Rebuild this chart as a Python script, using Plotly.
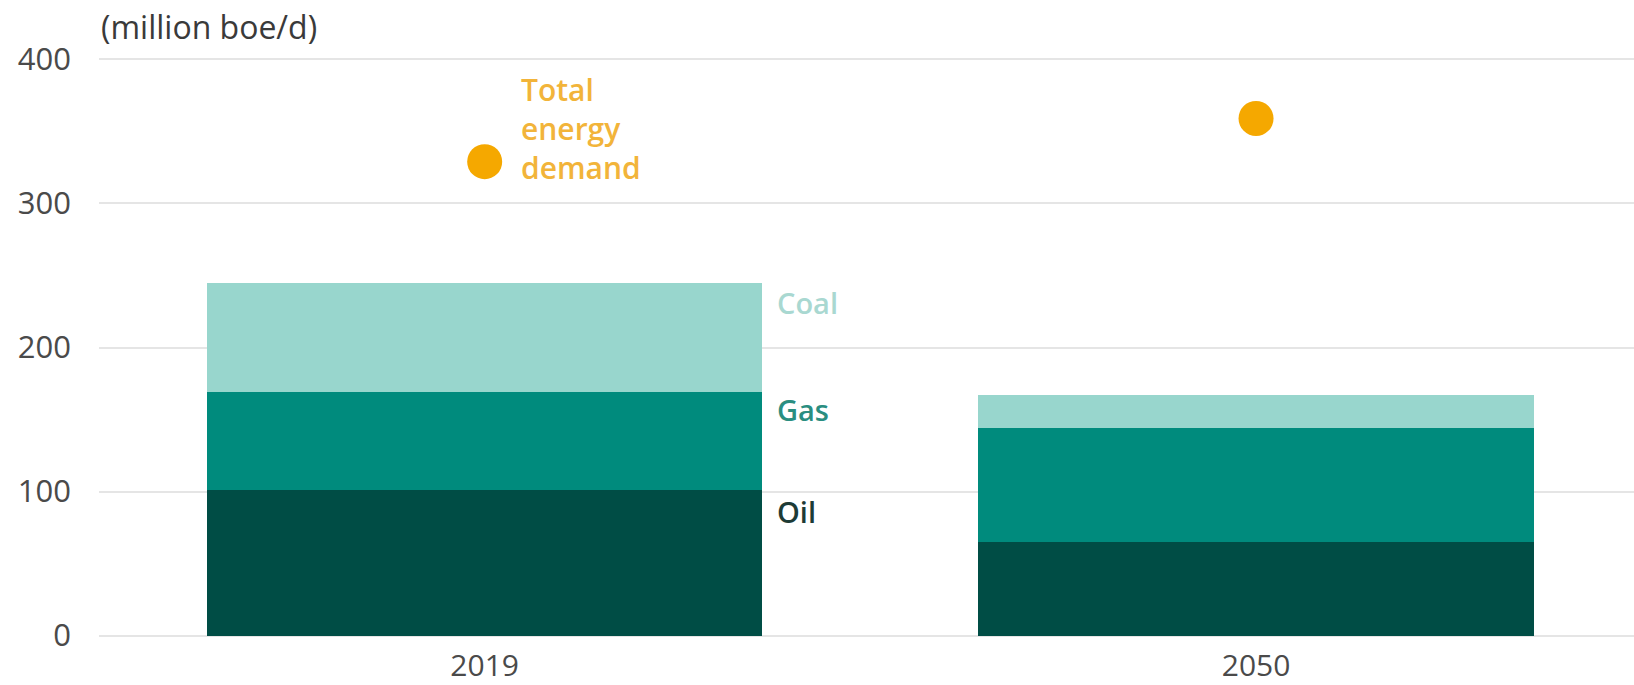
import plotly.graph_objects as go

# Primary energy from fossil sources, million barrels of oil equivalent per day
years = ["2019", "2050"]
x_pos = [0, 1]
oil = [101, 65]
gas = [68, 79]
coal = [76, 23]
total_demand = [329, 359]

oil_color = "#004D45"
gas_color = "#008B7D"
coal_color = "#98D6CD"
dot_color = "#F5A800"

bar_width = 0.72

fig = go.Figure()
for name, vals, col in [("Oil", oil, oil_color), ("Gas", gas, gas_color), ("Coal", coal, coal_color)]:
    fig.add_trace(go.Bar(x=x_pos, y=vals, name=name, marker=dict(color=col, line=dict(width=0)),
                         width=bar_width, hoverinfo="skip"))

fig.add_trace(go.Scatter(x=x_pos, y=total_demand, mode="markers",
                         marker=dict(color=dot_color, size=35, line=dict(width=0)),
                         name="Total energy demand", hoverinfo="skip"))

font_family = "'Open Sans', 'Noto Sans', sans-serif"

# Segment labels next to the 2019 bar, placed just below each segment top
tops = [oil[0], oil[0] + gas[0], oil[0] + gas[0] + coal[0]]
seg_labels = [("Oil", "#1D3B36", tops[0], -21), ("Gas", "#2A8E81", tops[1], -17), ("Coal", "#A9D8D1", tops[2], -20)]
annotations = []
for text, col, top, dy in seg_labels:
    annotations.append(dict(x=x_pos[0] + bar_width / 2, y=top, xref="x", yref="y",
                            text=text, showarrow=False, xanchor="left", yanchor="middle",
                            xshift=13, yshift=dy,
                            font=dict(size=29, color=col, family=font_family, weight=600)))

annotations.append(dict(x=x_pos[0], y=total_demand[0], xref="x", yref="y",
                        text="Total<br>energy<br>demand", showarrow=False, xanchor="left",
                        yanchor="middle", align="left", xshift=34, yshift=33,
                        font=dict(size=30, color="#F2B43A", family=font_family, weight=600)))

annotations.append(dict(x=0, y=400, xref="paper", yref="y", text="(million boe/d)",
                        showarrow=False, xanchor="left", yanchor="bottom", yshift=9,
                        font=dict(size=32, color="#3A3A3A", family=font_family)))

fig.update_layout(
    barmode="stack",
    width=1634, height=685,
    margin=dict(l=99, r=0, t=58, b=48),
    plot_bgcolor="white", paper_bgcolor="white",
    showlegend=False,
    annotations=annotations,
    font=dict(family=font_family, color="#444444", size=30),
    xaxis=dict(range=[-0.5, 1.49], tickmode="array", tickvals=x_pos, ticktext=years,
               showgrid=False, zeroline=False, showline=False, ticks="",
               ticklabelstandoff=8, tickfont=dict(size=30, color="#4A4A4A")),
    yaxis=dict(range=[-1, 401], tickvals=[0, 100, 200, 300, 400], showgrid=True,
               gridcolor="#E5E5E5", gridwidth=2, zeroline=False, showline=False, ticks="",
               ticklabelstandoff=27, tickfont=dict(size=31, color="#4A4A4A")),
)

fig.write_html("out.html")
